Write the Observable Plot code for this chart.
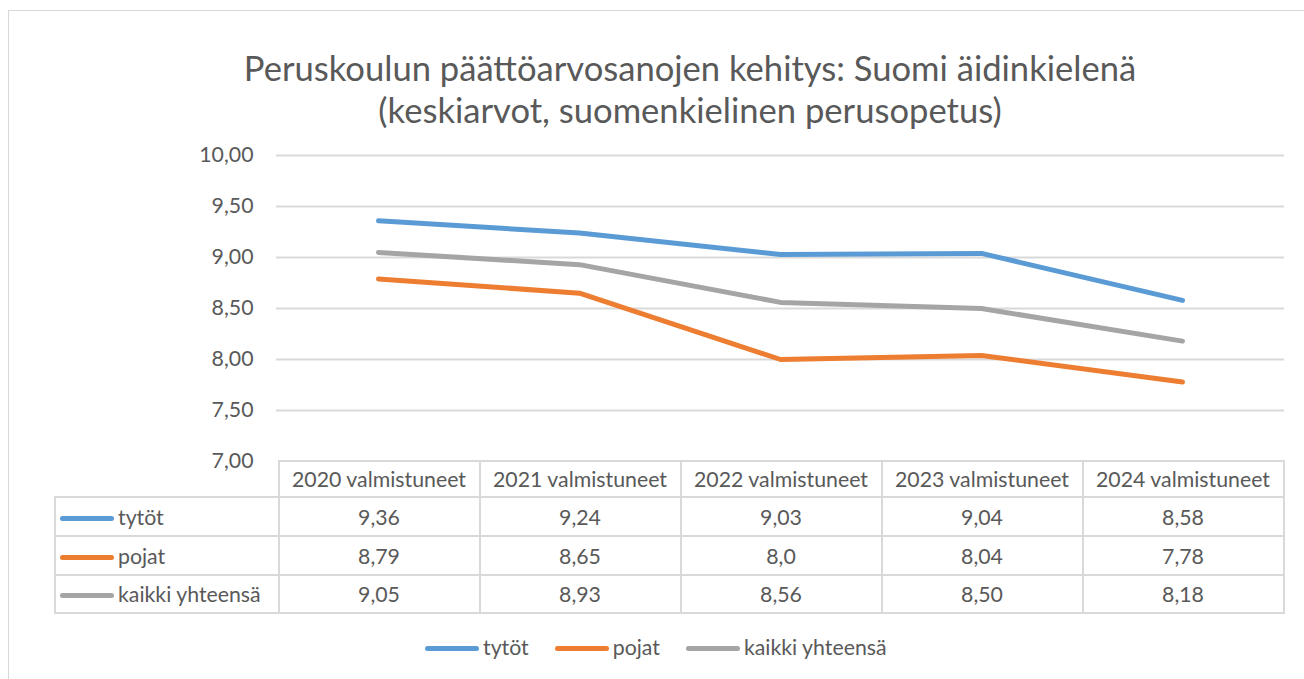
<!DOCTYPE html>
<html><head><meta charset="utf-8">
<script src="https://cdn.jsdelivr.net/npm/d3@7"></script>
<script src="https://cdn.jsdelivr.net/npm/@observablehq/plot@0.6"></script>
<style>
html,body{margin:0;padding:0;width:1304px;height:679px;overflow:hidden;background:#fff;font-family:Lato,sans-serif;color:#595959;}
#frame{position:absolute;left:8px;top:10px;width:1400px;height:800px;border:1.5px solid #d9d9d9;box-sizing:border-box;}
#title{position:absolute;left:0;top:47px;width:1380px;text-align:center;font-size:34.6px;line-height:42px;color:#595959;}
#chart{position:absolute;left:0;top:140px;}
#tbl{position:absolute;left:54px;top:460px;border-collapse:collapse;table-layout:fixed;font-size:21.3px;color:#595959;}
#tbl td{border:2px solid #d9d9d9;padding:0;text-align:center;white-space:nowrap;overflow:visible;}
#tbl td.blank{border-top:none;border-left:none;}
#tbl td.name{text-align:left;padding-left:4px;}
.key{display:inline-block;width:54px;height:5px;border-radius:3px;vertical-align:middle;margin-right:4px;position:relative;top:-1px;}
#legend{position:absolute;left:425px;top:634px;display:flex;font-size:21.3px;color:#595959;white-space:nowrap;}
#legend span.item{margin-right:26px;}
</style>
</head><body>
<div id="frame"></div>
<div id="title"></div>
<div id="chart"></div>
<table id="tbl"></table>
<div id="legend"></div>
<script>
const titleLines = ["Peruskoulun päättöarvosanojen kehitys: Suomi äidinkielenä", "(keskiarvot, suomenkielinen perusopetus)"];
const categories = ["2020 valmistuneet", "2021 valmistuneet", "2022 valmistuneet", "2023 valmistuneet", "2024 valmistuneet"];
const seriesNames = ["tytöt", "pojat", "kaikki yhteensä"];
const tytot = [9.36, 9.24, 9.03, 9.04, 8.58];
const pojat = [8.79, 8.65, 8.0, 8.04, 7.78];
const kaikki = [9.05, 8.93, 8.56, 8.50, 8.18];
const tytotLabels = ["9,36", "9,24", "9,03", "9,04", "8,58"];
const pojatLabels = ["8,79", "8,65", "8,0", "8,04", "7,78"];
const kaikkiLabels = ["9,05", "8,93", "8,56", "8,50", "8,18"];
const colors = ["#5B9BD5", "#ED7D31", "#A5A5A5"];
const yTicks = [7, 7.5, 8, 8.5, 9, 9.5, 10];
const yTickLabels = ["7,00", "7,50", "8,00", "8,50", "9,00", "9,50", "10,00"];

document.getElementById("title").innerHTML = titleLines.map(t => `<div>${t}</div>`).join("");

const valuesBySeries = [tytot, pojat, kaikki];
const labelsBySeries = [tytotLabels, pojatLabels, kaikkiLabels];
const data = [];
seriesNames.forEach((s, si) => categories.forEach((c, ci) => data.push({series: s, cat: c, value: valuesBySeries[si][ci]})));

const chart = Plot.plot({
  width: 1304, height: 333,
  marginTop: 15, marginBottom: 12, marginLeft: 276, marginRight: 20,
  style: {fontFamily: "Lato, sans-serif", fontSize: "21.3px", color: "#595959", overflow: "visible", background: "transparent"},
  x: {type: "point", domain: categories, padding: 0.5, axis: null},
  y: {domain: [7, 10], axis: null},
  color: {domain: seriesNames, range: colors},
  marks: [
    Plot.ruleY(yTicks.slice(1), {stroke: "#d9d9d9", strokeWidth: 2}),
    Plot.axisY(yTicks, {tickSize: 0, tickPadding: 23, label: null, fill: "#595959", fontSize: 21.3,
      tickFormat: d => yTickLabels[yTicks.indexOf(d)]}),
    Plot.line(data, {x: "cat", y: "value", z: "series", stroke: "series", strokeWidth: 5,
      strokeLinecap: "round", strokeLinejoin: "round"})
  ]
});
document.getElementById("chart").appendChild(chart);

// data table aligned with the plot's x scale
const xs = chart.scale("x");
const step = xs.apply(categories[1]) - xs.apply(categories[0]);
const firstW = xs.apply(categories[0]) - step / 2 - 54;
const tbl = document.getElementById("tbl");
tbl.style.width = (firstW + step * categories.length) + "px";
const rowHeights = [36, 39, 39, 38];
let html = `<colgroup><col style="width:${firstW}px">` + categories.map(() => `<col style="width:${step}px">`).join("") + `</colgroup>`;
html += `<tr style="height:${rowHeights[0]}px"><td class="blank"></td>` +
  categories.map(c => `<td>${c}</td>`).join("") + `</tr>`;
seriesNames.forEach((s, si) => {
  html += `<tr style="height:${rowHeights[si + 1]}px"><td class="name"><span class="key" style="background:${colors[si]}"></span>${s}</td>` +
    labelsBySeries[si].map(l => `<td>${l}</td>`).join("") + `</tr>`;
});
tbl.innerHTML = html;

document.getElementById("legend").innerHTML = seriesNames.map((s, si) =>
  `<span class="item"><span class="key" style="background:${colors[si]}"></span>${s}</span>`).join("");
</script>
</body></html>
